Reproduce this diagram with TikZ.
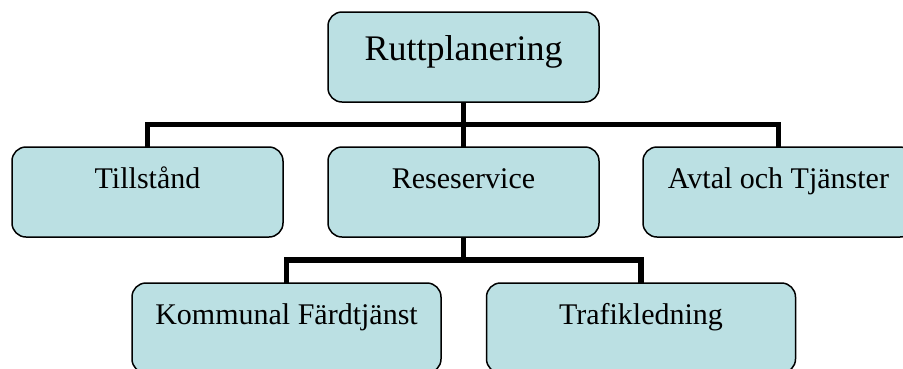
\documentclass[tikz,border=0pt]{standalone}
\usepackage{fontspec}
\setmainfont{Liberation Serif}
\usetikzlibrary{backgrounds}
\definecolor{boxfill}{HTML}{BBE0E3}
\tikzset{
  orgbox/.style={draw=black, line width=1.5pt, fill=boxfill, rounded corners=14pt,
    inner sep=0pt, outer sep=0pt, minimum height=90pt},
  boxtext/.style={anchor=base, inner sep=0pt, font=\fontsize{30}{36}\selectfont},
  conn/.style={draw=black, line width=5.5pt, line join=miter, line cap=butt},
}
\begin{document}
\begin{tikzpicture}[x=1pt, y=-1pt]
  \useasboundingbox (0,0) rectangle (903,368);
  \clip (0,0) rectangle (903,368);

  % boxes
  \node[orgbox, minimum width=271pt] (top) at (463.5,57) {};
  \node[orgbox, minimum width=271pt] (till) at (147.5,192) {};
  \node[orgbox, minimum width=271pt] (res) at (463.5,192) {};
  \node[orgbox, minimum width=271pt] (avt) at (778.5,192) {};
  \node[orgbox, minimum width=309pt] (kom) at (286.5,328) {};
  \node[orgbox, minimum width=309pt] (traf) at (641,328) {};

  % labels
  \node[boxtext, font=\fontsize{36}{43}\selectfont] (ttop) at (463.5,60) {Ruttplanering};
  \node[boxtext] (ttill) at (147.5,188.5) {Tillstånd};
  \node[boxtext] (tres) at (463.5,188.5) {Reseservice};
  \node[boxtext] (tavt) at (778.5,188.5) {Avtal och Tjänster};
  \node[boxtext] (tkom) at (286.5,324.5) {Kommunal Färdtjänst};
  \node[boxtext] (ttraf) at (641,324.5) {Trafikledning};

  % bus lines of the two levels
  \coordinate (bus1) at (0,124.7);
  \coordinate (bus2) at (0,260);

  \begin{scope}[on background layer]
    \draw[conn] (top.south) -- (res.north);
    \draw[conn] (till.north) |- (bus1 -| avt.north) -- (avt.north);
    \draw[conn] (res.south) -- (res.south |- bus2);
    \draw[conn] (kom.north) |- (bus2 -| traf.north) -- (traf.north);
  \end{scope}
\end{tikzpicture}
\end{document}
